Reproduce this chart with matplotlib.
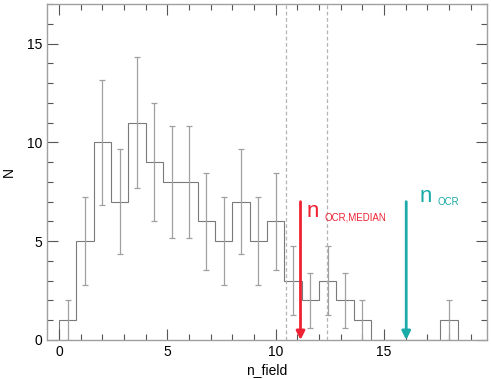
import numpy as np
import matplotlib
matplotlib.use("Agg")
import matplotlib.pyplot as plt
from matplotlib.ticker import MultipleLocator

plt.rcParams['font.family'] = ['Liberation Sans', 'DejaVu Sans']

# === Data ===
bin_width = 0.8
counts = [1, 5, 10, 7, 11, 9, 8, 8, 6, 5, 7, 5, 6, 3, 2, 3, 2, 1, 0, 0, 0, 0, 1]
dashed_x = [10.5, 12.35]
median_x = 11.15
ocr_x = 16.03
arrow_top = 7.0

edges = np.arange(len(counts) + 1) * bin_width
centers = edges[:-1] + bin_width / 2
counts = np.array(counts)
errors = np.sqrt(counts)

# === Plot ===
fig = plt.figure(figsize=(4.91, 3.79), dpi=100)
ax = fig.add_axes([0.0963, 0.103, 0.8947, 0.886])

# histogram outline
ax.stairs(counts, edges, color="#7a7a7a", linewidth=0.8, baseline=0)

# Poisson error bars (skip empty bins)
has = counts > 0
ax.errorbar(centers[has], counts[has], yerr=errors[has], fmt="none",
            ecolor="#a0a0a0", elinewidth=0.9, capsize=2, capthick=0.9)

# dashed range lines
for xv in dashed_x:
    ax.axvline(xv, color="#b4b4b4", linestyle=(0, (3, 2)), linewidth=0.9)

# arrows
ax.annotate("", xy=(median_x, 0), xytext=(median_x, arrow_top),
            arrowprops=dict(arrowstyle="-|>,head_length=0.5,head_width=0.25",
                            color="#ee2233", lw=2, shrinkA=0, shrinkB=0))
ax.annotate("", xy=(ocr_x, 0), xytext=(ocr_x, arrow_top),
            arrowprops=dict(arrowstyle="-|>,head_length=0.5,head_width=0.25",
                            color="#1aaaa8", lw=2, shrinkA=0, shrinkB=0))

ax.text(11.43, 6.23, "n", color="#ee2233", fontsize=16, ha="left", va="baseline")
ax.text(12.27, 6.03, "OCR,MEDIAN", color="#ee2233", fontsize=7, ha="left", va="baseline")
ax.text(16.63, 7.0, "n", color="#1aaaa8", fontsize=16, ha="left", va="baseline")
ax.text(17.46, 6.85, "OCR", color="#1aaaa8", fontsize=7, ha="left", va="baseline")

ax.set_xlim(-0.54, 19.74)
ax.set_ylim(0, 17)
ax.set_xlabel("n_field", fontsize=10, labelpad=3)
ax.set_ylabel("N", fontsize=10, labelpad=8)

ax.xaxis.set_major_locator(MultipleLocator(5))
ax.xaxis.set_minor_locator(MultipleLocator(1))
ax.yaxis.set_major_locator(MultipleLocator(5))
ax.yaxis.set_minor_locator(MultipleLocator(1))
ax.tick_params(which="both", direction="in", top=True, right=True,
               color="#555555", width=0.8, labelsize=10)
ax.tick_params(which="major", length=8)
ax.tick_params(which="minor", length=4)
for sp in ax.spines.values():
    sp.set_color("#a0a0a0")
    sp.set_linewidth(1.0)

plt.savefig("out.png", dpi=100)
